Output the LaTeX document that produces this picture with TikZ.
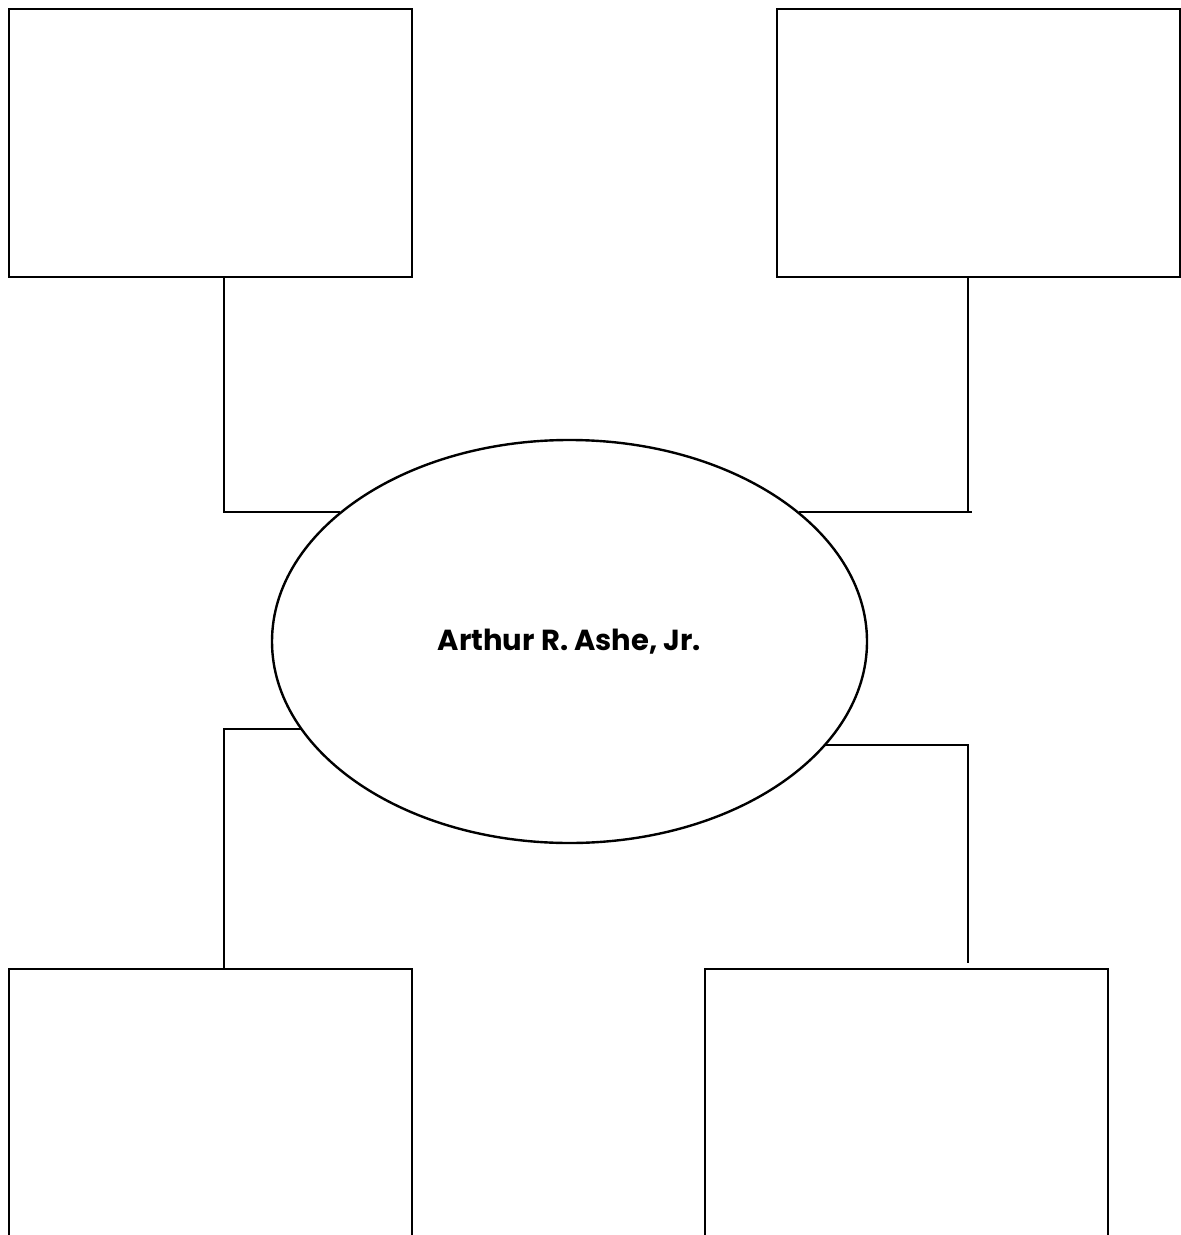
\documentclass[tikz,border=0pt]{standalone}
\usepackage{fontspec}
\setmainfont{Poppins}
\usetikzlibrary{shapes.geometric}
\begin{document}
\begin{tikzpicture}[x=0.5pt,y=-0.5pt,line width=1.2pt,
  box/.style={draw,rectangle,anchor=north west,inner sep=0pt,minimum width=201.5pt,minimum height=#1},
  box/.default=134pt,
  oval/.style={draw,ellipse,inner sep=0pt,minimum width=297.5pt,minimum height=201.5pt,font=\bfseries\fontsize{14.5}{17}\selectfont},
  link/.style={line cap=rect}]
\useasboundingbox (0,0) rectangle (1181,1235);
\node[box] (tl) at (8,8) {};
\node[box] (tr) at (776,8) {};
\node[box=160pt] (bl) at (8,968) {};
\node[box=160pt] (br) at (704,968) {};
\node[oval] (e) at (569.5,641.5) {Arthur R. Ashe, Jr.};
\coordinate (tlk) at (224,512);
\coordinate (tle) at (340,512);
\coordinate (trk) at (968,512);
\coordinate (tre) at (799,512);
\coordinate (trx) at (972,512);
\coordinate (blk) at (224,729);
\coordinate (ble) at (301,729);
\coordinate (brk) at (968,745);
\coordinate (bre) at (825,745);
\coordinate (brx) at (968,963);
\draw (tl.south -| tlk) -- (tlk) -- (tle);
\draw (tr.south -| trk) -- (trk);
\draw (tre) -- (trx);
\draw (ble) -- (blk) -- (bl.north -| blk);
\draw (bre) -- (brk) -- (brx);
\end{tikzpicture}
\end{document}
